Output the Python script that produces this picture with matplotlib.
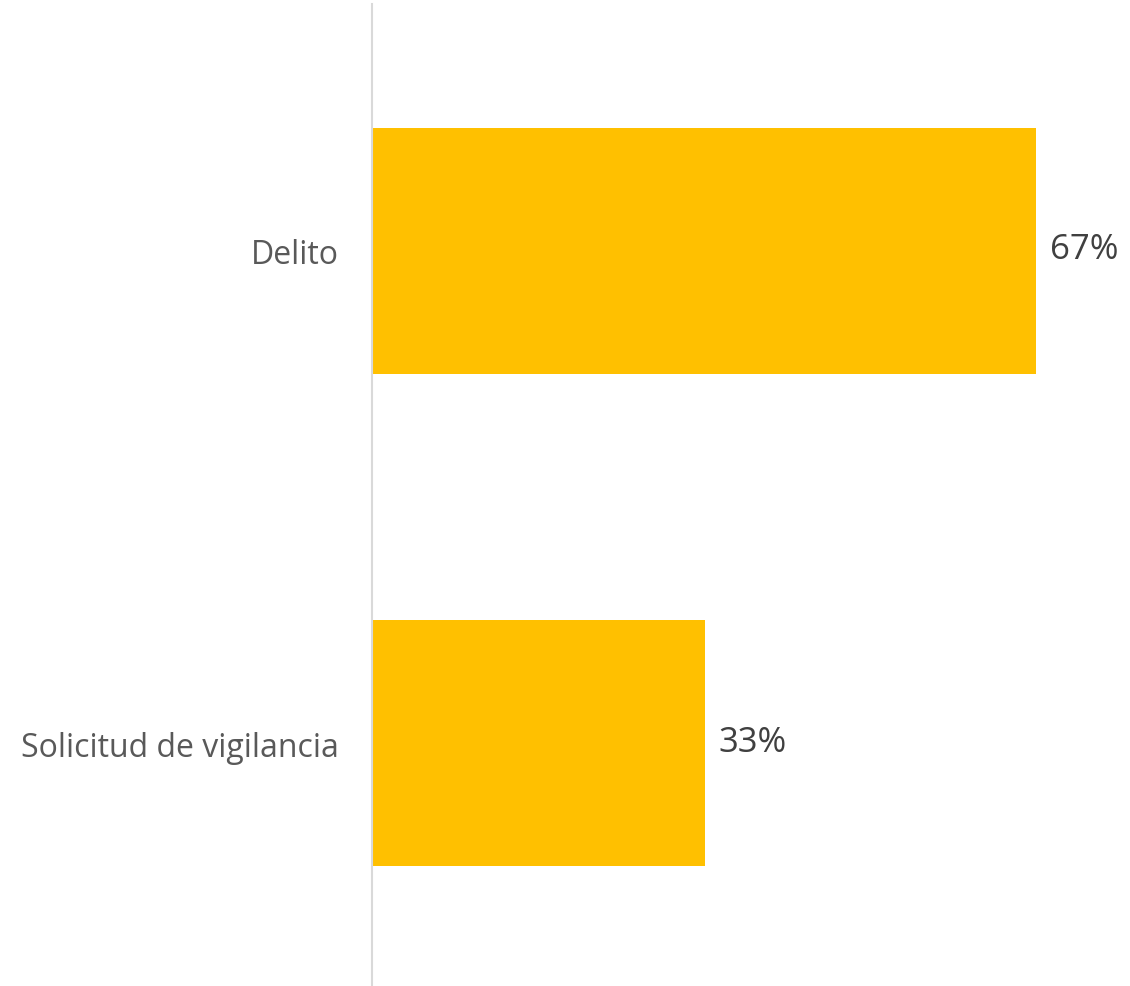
import matplotlib.pyplot as plt

categories = ["Delito", "Solicitud de vigilancia"]
values = [0.67, 0.336]
labels = ["67%", "33%"]

plt.rcParams["font.family"] = ["Open Sans", "DejaVu Sans"]

fig = plt.figure(figsize=(11.3, 9.87), dpi=100)
ax = fig.add_axes([372 / 1130, 0, 758 / 1130, 982 / 987])

ax.barh(categories, values, height=0.5, color="#FFC000")
ax.set_xlim(0, 0.765)
ax.set_ylim(1.493, -0.501)

for i, (v, lab) in enumerate(zip(values, labels)):
    ax.annotate(lab, (v, i), textcoords="offset points", xytext=(10, 1),
                va="center", ha="left", fontsize=25, color="#404040")

for s in ["top", "right", "bottom"]:
    ax.spines[s].set_visible(False)
ax.spines["left"].set_color("#D9D9D9")
ax.spines["left"].set_linewidth(1.5)
ax.set_xticks([])
ax.tick_params(axis="y", length=0, pad=24, labelsize=23, labelcolor="#595959")

fig.savefig("out.png", dpi=100)
